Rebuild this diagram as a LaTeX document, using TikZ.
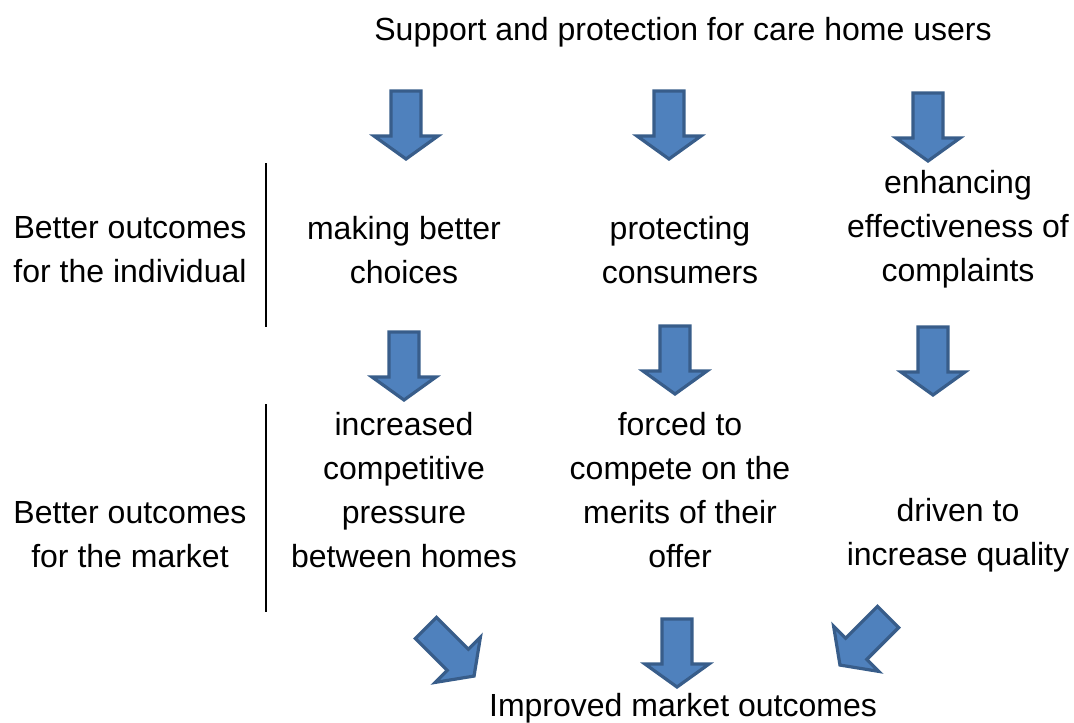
\documentclass[tikz,border=0pt]{standalone}
\usepackage{fontspec}
\setmainfont{Liberation Sans}
\definecolor{arrowfill}{HTML}{4F81BD}
\definecolor{arrowline}{HTML}{385D8A}
\tikzset{
  lbl/.style={align=center, inner sep=0pt, font=\fontsize{24}{33}\selectfont},
  sep/.style={line width=1.5pt, black},
  blockarrow/.pic={
    \path[fill=arrowfill, draw=arrowline, line width=2.4pt, line join=miter]
      (-15,-34) -- (15,-34) -- (15,11) -- (32,11) -- (0,34) -- (-32,11) -- (-15,11) -- cycle;
  }
}
\begin{document}
\begin{tikzpicture}[x=0.75pt, y=-0.75pt]
\useasboundingbox (0,0) rectangle (1074,722);
% texts
\node[lbl] (title) at (683,32) {Support and protection for care home users};
\node[lbl] (ind) at (130,250) {Better outcomes\\for the individual};
\node[lbl] (mkt) at (130,535) {Better outcomes\\for the market};
\node[lbl] (c1) at (404,250) {making better\\choices};
\node[lbl] (c2) at (680,250) {protecting\\consumers};
\node[lbl] (c3) at (958,229) {enhancing\\effectiveness of\\complaints};
\node[lbl] (m1) at (404,490) {increased\\competitive\\pressure\\between homes};
\node[lbl] (m2) at (680,490) {forced to\\compete on the\\merits of their\\offer};
\node[lbl] (m3) at (958,535) {driven to\\increase quality};
\node[lbl] (res) at (683,708) {Improved market outcomes};
% separators
\coordinate (s1a) at (266,163);
\coordinate (s1b) at (266,327);
\coordinate (s2a) at (266,404);
\coordinate (s2b) at (266,612);
\draw[sep] (s1a) -- (s1b);
\draw[sep] (s2a) -- (s2b);
% arrows
\pic at (406,125) {blockarrow};
\pic at (669,125) {blockarrow};
\pic at (928,127) {blockarrow};
\pic at (404,366) {blockarrow};
\pic at (675,360) {blockarrow};
\pic at (933,361) {blockarrow};
\pic at (677,653) {blockarrow};
\pic[rotate=45] at (450,652) {blockarrow};
\pic[rotate=-45] at (864,641) {blockarrow};
\end{tikzpicture}
\end{document}
